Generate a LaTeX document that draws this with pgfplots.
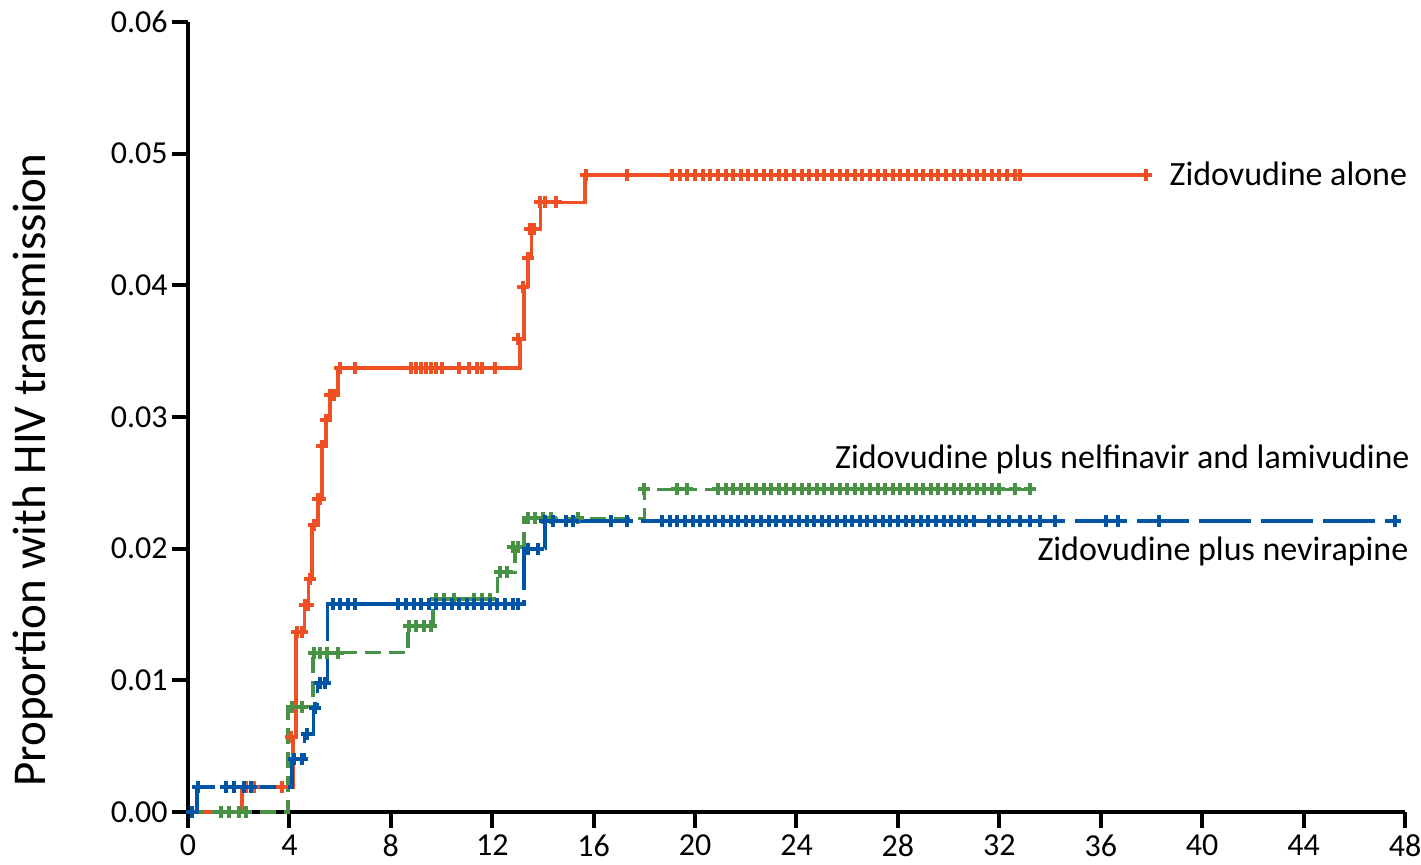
\documentclass[border=0pt]{standalone}
\usepackage{pgfplots}
\pgfplotsset{compat=1.18}
\usepackage{fontspec}
\setmainfont{Carlito}
\definecolor{zor}{RGB}{240,78,35}
\definecolor{zgr}{RGB}{72,146,70}
\definecolor{zbl}{RGB}{0,84,166}
\begin{document}
\begin{tikzpicture}
\useasboundingbox (-94pt,-26pt) rectangle (616.5pt,406pt);
\begin{axis}[at={(0,0)}, anchor=south west, scale only axis,
  width=608.5pt, height=395pt,
  xmin=0, xmax=48, ymin=0, ymax=0.06,
  axis lines=left, axis line style={line width=2pt, -},
  xtick={0,4,8,12,16,20,24,28,32,36,40,44,48},
  ytick={0,0.01,0.02,0.03,0.04,0.05,0.06},
  tick style={line width=2pt, black}, major tick length=8pt, tick align=outside,
  /pgf/number format/assume math mode=true,
  ticklabel style={font=\fontsize{16}{18}\selectfont},
  yticklabel style={/pgf/number format/fixed, /pgf/number format/fixed zerofill, /pgf/number format/precision=2, inner sep=2pt},
  scaled y ticks=false,
  clip=false,
  every axis plot/.append style={line width=1.8pt},
  ]
% Zidovudine alone
\addplot[zor, const plot, no marks] coordinates {
(0,0) (2.13,0.0019) (4.15,0.0057) (4.25,0.0137) (4.6,0.0157) (4.75,0.0177) (4.9,0.0218) (5.12,0.0238) (5.28,0.0278) (5.44,0.0298) (5.6,0.0317) (5.92,0.0337) (13.1,0.0359) (13.25,0.0399) (13.4,0.0421) (13.55,0.0443) (13.9,0.0463) (15.66,0.0484) (37.8,0.0484)};
\addplot[zor, only marks, mark=+, mark size=3pt, mark options={line width=2pt}] coordinates {
(2.3,0.0019)(2.6,0.0019)(3.7,0.0019)(4.05,0.0057)(4.3,0.0137)(4.5,0.0137)(4.62,0.0157)(4.72,0.0157)(4.8,0.0177)(4.95,0.0218)(5.12,0.0238)(5.22,0.0238)(5.3,0.0278)(5.46,0.0298)(5.6,0.0317)(5.75,0.0317)(6.0,0.0337)(6.6,0.0337)(8.8,0.0337)(9.0,0.0337)(9.2,0.0337)(9.4,0.0337)(9.6,0.0337)(9.8,0.0337)(10.0,0.0337)(10.7,0.0337)(11.1,0.0337)(11.4,0.0337)(11.6,0.0337)(12.1,0.0337)(13.0,0.0359)(13.2,0.0399)(13.4,0.0421)(13.5,0.0443)(13.65,0.0443)(13.9,0.0463)(14.1,0.0463)(14.5,0.0463)(15.7,0.0484)(17.3,0.0484)
(19.1,0.0484)(19.4,0.0484)(19.7,0.0484)(20.0,0.0484)(20.3,0.0484)(20.6,0.0484)(20.9,0.0484)(21.2,0.0484)(21.5,0.0484)(21.8,0.0484)(22.1,0.0484)(22.4,0.0484)(22.7,0.0484)(23.0,0.0484)(23.3,0.0484)(23.6,0.0484)(23.9,0.0484)(24.2,0.0484)(24.5,0.0484)(24.8,0.0484)(25.1,0.0484)(25.4,0.0484)(25.7,0.0484)(26.0,0.0484)(26.3,0.0484)(26.6,0.0484)(26.9,0.0484)(27.2,0.0484)(27.5,0.0484)(27.8,0.0484)(28.1,0.0484)(28.4,0.0484)(28.7,0.0484)(29.0,0.0484)(29.3,0.0484)(29.6,0.0484)(29.9,0.0484)(30.2,0.0484)(30.5,0.0484)(30.8,0.0484)(31.1,0.0484)(31.4,0.0484)(31.7,0.0484)(32.0,0.0484)(32.3,0.0484)(32.6,0.0484)(32.8,0.0484)(37.8,0.0484)};
% Zidovudine plus nelfinavir and lamivudine
\addplot[zgr, const plot, no marks, dash pattern=on 8pt off 4pt] coordinates {
(0,0)(3.95,0.0080)(4.93,0.0121)(8.68,0.0141)(9.67,0.0162)(12.2,0.0182)(12.9,0.0201)(13.25,0.0223)(18.0,0.0245)(33.3,0.0245)};
\addplot[zgr, only marks, mark=+, mark size=3pt, mark options={line width=2pt}] coordinates {
(1.3,0)(1.6,0)(2.0,0)(2.3,0)(4.1,0.008)(4.5,0.008)(4.95,0.0121)(5.2,0.0121)(5.5,0.0121)(5.9,0.0121)(8.7,0.0141)(9.0,0.0141)(9.3,0.0141)(9.6,0.0141)(9.8,0.0162)(10.1,0.0162)(10.5,0.0162)(11.3,0.0162)(11.6,0.0162)(11.9,0.0162)(12.3,0.0182)(12.6,0.0182)(12.8,0.0201)(13.0,0.0201)(13.4,0.0223)(13.7,0.0223)(14.0,0.0223)(14.3,0.0223)(15.4,0.0223)(18.0,0.0245)(19.3,0.0245)(19.7,0.0245)
(20.9,0.0245)(21.2,0.0245)(21.5,0.0245)(21.8,0.0245)(22.1,0.0245)(22.4,0.0245)(22.7,0.0245)(23.0,0.0245)(23.3,0.0245)(23.6,0.0245)(23.9,0.0245)(24.2,0.0245)(24.5,0.0245)(24.8,0.0245)(25.1,0.0245)(25.4,0.0245)(25.7,0.0245)(26.0,0.0245)(26.3,0.0245)(26.6,0.0245)(26.9,0.0245)(27.2,0.0245)(27.5,0.0245)(27.8,0.0245)(28.1,0.0245)(28.4,0.0245)(28.7,0.0245)(29.0,0.0245)(29.3,0.0245)(29.6,0.0245)(29.9,0.0245)(30.2,0.0245)(30.5,0.0245)(30.8,0.0245)(31.1,0.0245)(31.4,0.0245)(31.7,0.0245)(32.0,0.0245)(32.6,0.0245)(33.2,0.0245)};
% Zidovudine plus nevirapine
\addplot[zbl, const plot, no marks, dash pattern=on 26pt off 5pt] coordinates {
(0,0)(0.35,0.0019)(4.1,0.0040)(4.6,0.0059)(4.95,0.0079)(5.1,0.0098)(5.5,0.0158)(13.25,0.0200)(14.08,0.0221)(47.6,0.0221)};
\addplot[zbl, only marks, mark=+, mark size=3pt, mark options={line width=2pt}] coordinates {
(0.15,0)(0.4,0.0019)(1.5,0.0019)(1.8,0.0019)(2.2,0.0019)(2.5,0.0019)(4.2,0.004)(4.5,0.004)(4.7,0.0059)(5.0,0.0079)(5.2,0.0098)(5.4,0.0098)(5.7,0.0158)(6.0,0.0158)(6.3,0.0158)(6.6,0.0158)
(8.3,0.0158)(8.6,0.0158)(8.9,0.0158)(9.2,0.0158)(9.5,0.0158)(9.8,0.0158)(10.1,0.0158)(10.4,0.0158)(10.7,0.0158)(11.0,0.0158)(11.3,0.0158)(11.6,0.0158)(11.9,0.0158)(12.2,0.0158)(12.5,0.0158)(12.8,0.0158)(13.0,0.0158)
(13.4,0.0200)(13.8,0.0200)(14.1,0.0221)(14.4,0.0221)(14.9,0.0221)(15.2,0.0221)(16.7,0.0221)(17.3,0.0221)
(18.7,0.0221)(19.0,0.0221)(19.3,0.0221)(19.6,0.0221)(19.9,0.0221)(20.2,0.0221)(20.5,0.0221)(20.8,0.0221)(21.1,0.0221)(21.4,0.0221)(21.7,0.0221)(22.0,0.0221)(22.3,0.0221)(22.6,0.0221)(22.9,0.0221)(23.2,0.0221)(23.5,0.0221)(23.8,0.0221)(24.1,0.0221)(24.4,0.0221)(24.7,0.0221)(25.0,0.0221)(25.3,0.0221)(25.6,0.0221)(25.9,0.0221)(26.2,0.0221)(26.5,0.0221)(26.8,0.0221)(27.1,0.0221)(27.4,0.0221)(27.7,0.0221)(28.0,0.0221)(28.3,0.0221)(28.6,0.0221)(28.9,0.0221)(29.2,0.0221)(29.5,0.0221)(29.8,0.0221)(30.1,0.0221)(30.4,0.0221)(30.7,0.0221)(31.0,0.0221)
(31.6,0.0221)(32.0,0.0221)(32.4,0.0221)(32.8,0.0221)(33.2,0.0221)(33.6,0.0221)(34.2,0.0221)(36.2,0.0221)(36.7,0.0221)(38.3,0.0221)(47.6,0.0221)};
\node[anchor=west, font=\fontsize{17}{20}\selectfont, inner sep=0pt] at (axis cs:38.7,0.0485) {Zidovudine alone};
\node[anchor=east, font=\fontsize{17}{20}\selectfont, inner sep=0pt] at (axis cs:48.2,0.0268) {Zidovudine plus nelfinavir and lamivudine};
\node[anchor=east, font=\fontsize{17}{20}\selectfont, inner sep=0pt] at (axis cs:48.15,0.0198) {Zidovudine plus nevirapine};
\end{axis}
\node[rotate=90, font=\fontsize{23.5}{28}\selectfont] at (-77.5pt,171pt) {Proportion with HIV transmission};
\end{tikzpicture}
\end{document}
